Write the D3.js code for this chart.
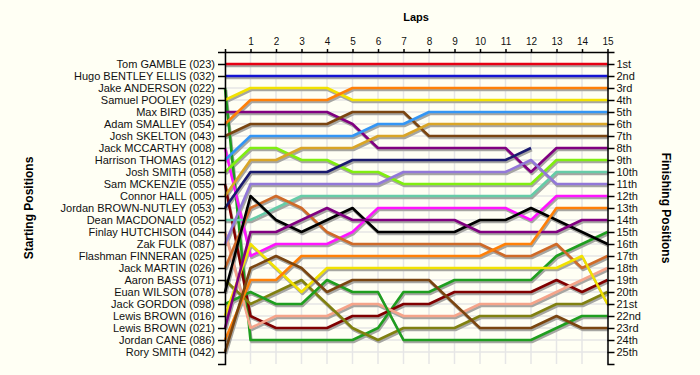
<!DOCTYPE html>
<html lang="en">
<head>
<meta charset="UTF-8">
<title>Lap chart</title>
<script src="https://d3js.org/d3.v7.min.js"></script>
<style>
  body { margin: 0; background: #fffff4; }
  svg { display: block; font-family: "Liberation Sans", Arial, sans-serif; }
  .grid line { stroke: #e6e6e6; stroke-width: 1.5; }
  .axis path, .axis line { stroke: #000; stroke-width: 1.5; }
  .axis text { fill: #111; }
</style>
</head>
<body>
<svg width="700" height="375"></svg>
<script>
// drivers in starting order
var drivers = ["Tom GAMBLE (023)", "Hugo BENTLEY ELLIS (032)", "Jake ANDERSON (022)",
  "Samuel POOLEY (029)", "Max BIRD (035)", "Adam SMALLEY (054)", "Josh SKELTON (043)",
  "Jack MCCARTHY (008)", "Harrison THOMAS (012)", "Josh SMITH (058)", "Sam MCKENZIE (055)",
  "Connor HALL (005)", "Jordan BROWN-NUTLEY (053)", "Dean MACDONALD (052)",
  "Finlay HUTCHISON (044)", "Zak FULK (087)", "Flashman FINNERAN (025)", "Jack MARTIN (026)",
  "Aaron BASS (071)", "Euan WILSON (078)", "Jack GORDON (098)", "Lewis BROWN (016)",
  "Lewis BROWN (021)", "Jordan CANE (086)", "Rory SMITH (042)"];

var places = ["1st", "2nd", "3rd", "4th", "5th", "6th", "7th", "8th", "9th", "10th",
  "11th", "12th", "13th", "14th", "15th", "16th", "17th", "18th", "19th", "20th",
  "21st", "22nd", "23rd", "24th", "25th"];

var laps = d3.range(0, 16);

// position at laps 0..15 for each driver (null = not running)
var positions = [
  [1,1,1,1,1,1,1,1,1,1,1,1,1,1,1,1],
  [2,2,2,2,2,2,2,2,2,2,2,2,2,2,2,2],
  [3,24,24,24,24,24,23,20,20,19,19,19,19,17,16,15],
  [4,3,3,3,3,4,4,4,4,4,4,4,4,4,4,4],
  [5,5,5,5,5,6,8,8,8,8,8,8,10,8,8,8],
  [6,4,4,4,4,3,3,3,3,3,3,3,3,3,3,3],
  [7,6,6,6,6,5,5,5,7,7,7,7,7,7,7,7],
  [8,17,16,16,16,15,13,13,13,13,13,13,14,12,12,12],
  [9,7,7,7,7,7,6,6,5,5,5,5,5,5,5,5],
  [10,8,8,9,9,10,10,11,11,11,11,11,11,9,9,9],
  [11,22,23,23,23,22,22,21,21,20,20,20,20,19,20,19],
  [12,9,9,8,8,8,7,7,6,6,6,6,6,6,6,6],
  [13,10,10,10,10,9,9,9,9,9,9,9,8,null,null,null],
  [14,14,13,12,12,12,12,12,12,12,12,12,12,10,10,10],
  [15,23,22,22,22,21,21,22,22,22,21,21,21,20,19,18],
  [16,11,11,11,11,11,11,10,10,10,10,10,9,11,11,11],
  [null,null,null,null,null,null,null,null,null,null,null,null,null,null,null,null],
  [18,13,12,13,15,16,16,16,16,16,16,17,17,16,18,17],
  [19,21,20,19,21,23,24,23,23,23,22,22,22,21,21,20],
  [20,12,14,15,14,13,15,15,15,15,14,14,13,14,15,16],
  [21,20,21,21,19,20,20,24,24,24,24,24,24,23,22,22],
  [22,16,18,20,18,18,18,18,18,18,18,18,18,18,17,21],
  [23,15,15,14,13,14,14,14,14,14,15,15,15,15,14,14],
  [24,19,19,17,17,17,17,17,17,17,17,16,16,13,13,13],
  [25,18,17,18,20,19,19,19,19,21,23,23,23,22,23,23]
];

var colors = ["#e60012", "#1414d2", "#1f9e1f", "#f2e200", "#800080", "#ff8008", "#7a4510",
  "#ff14ff", "#3396f5", "#80ee10", "#800000", "#d9a526", "#1a1a6e", "#66cca8",
  "#f5a48a", "#9278d8", "#999999", "#cf6a28", "#808010", "#000000", "#1f9e1f",
  "#f2e200", "#800080", "#ff8008", "#7a4510"];

var svg = d3.select("svg");

var x = d3.scaleLinear().domain([0, 15]).range([225, 607.5]);
var y = d3.scaleLinear().domain([0, 26]).range([52, 364]);
var rows = d3.range(1, 26);

// grid
var grid = svg.append("g").attr("class", "grid");
grid.selectAll(".v").data(laps).enter().append("line")
  .attr("x1", function(d) { return x(d); }).attr("x2", function(d) { return x(d); })
  .attr("y1", y(0)).attr("y2", y(26));
grid.selectAll(".h").data(rows).enter().append("line")
  .attr("x1", x(0)).attr("x2", x(15))
  .attr("y1", function(d) { return y(d); }).attr("y2", function(d) { return y(d); });

var line = d3.line()
  .defined(function(d) { return d != null; })
  .x(function(d, i) { return x(laps[i]); })
  .y(function(d) { return y(d); });

// shadows first, then the lines
svg.append("g").attr("transform", "translate(1,2)")
  .selectAll("path").data(positions).enter().append("path")
  .attr("d", line)
  .attr("fill", "none")
  .attr("stroke", "#a6a6a2")
  .attr("stroke-width", 2.6)
  .attr("stroke-linejoin", "round");

svg.append("g")
  .selectAll("path").data(positions).enter().append("path")
  .attr("d", line)
  .attr("fill", "none")
  .attr("stroke", function(d, i) { return colors[i]; })
  .attr("stroke-width", 2.6)
  .attr("stroke-linejoin", "round");

// axes
svg.append("g").attr("class", "axis")
  .attr("transform", "translate(" + x(0) + ",0)")
  .call(d3.axisLeft(y).tickValues(rows).tickSize(7).tickPadding(3)
    .tickFormat(function(d) { return drivers[d - 1]; }))
  .selectAll("text").attr("font-size", 11).attr("font-family", "Liberation Sans, Arial");

svg.append("g").attr("class", "axis")
  .attr("transform", "translate(" + x(15) + ",0)")
  .call(d3.axisRight(y).tickValues(rows).tickSize(7).tickPadding(2)
    .tickFormat(function(d) { return places[d - 1]; }))
  .selectAll("text").attr("font-size", 11).attr("font-family", "Liberation Sans, Arial");

svg.append("g").attr("class", "axis")
  .attr("transform", "translate(0," + y(0) + ")")
  .call(d3.axisTop(x).tickValues(laps).tickSize(3).tickSizeOuter(0).tickPadding(4)
    .tickFormat(function(d) { return d === 0 ? "" : d; }))
  .selectAll("text").attr("font-size", 10).attr("font-family", "Liberation Sans, Arial");

// titles
svg.append("text")
  .attr("x", 416).attr("y", 21)
  .attr("text-anchor", "middle")
  .attr("font-size", 11).attr("font-weight", "bold")
  .text("Laps");

svg.append("text")
  .attr("transform", "translate(33,208) rotate(-90)")
  .attr("text-anchor", "middle")
  .attr("font-size", 12).attr("font-weight", "bold")
  .text("Starting Positions");

svg.append("text")
  .attr("transform", "translate(662,208) rotate(90)")
  .attr("text-anchor", "middle")
  .attr("font-size", 12).attr("font-weight", "bold")
  .text("Finishing Positions");
</script>
</body>
</html>
